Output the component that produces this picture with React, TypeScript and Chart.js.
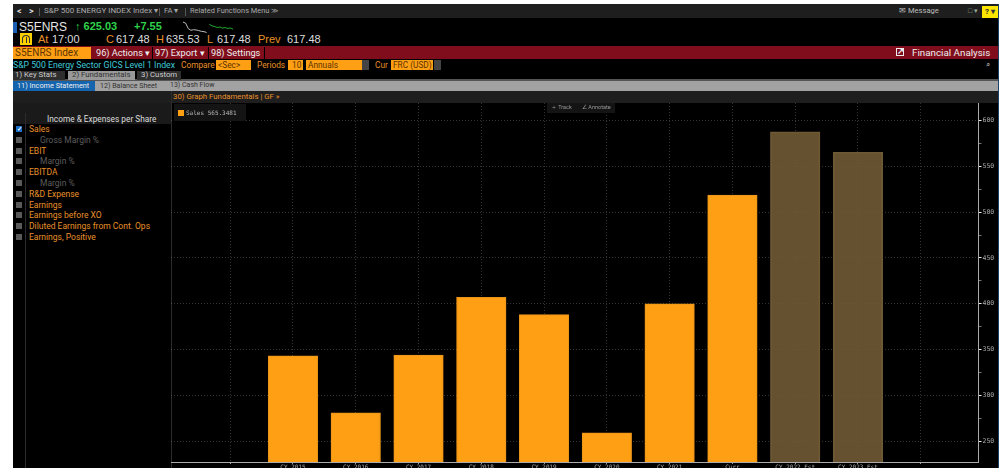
import React, { useEffect, useRef } from "react";
import { Chart, registerables } from "chart.js";

Chart.register(...registerables);

const periods = ["CY 2015", "CY 2016", "CY 2017", "CY 2018", "CY 2019", "CY 2020", "CY 2021", "Curr", "CY 2022 Est", "CY 2023 Est"];
const salesPerShare = [343, 281, 344, 407, 388, 259, 400, 518.7, 587.5, 565.3481];
const estimated = [false, false, false, false, false, false, false, false, true, true];
const yTicks = [250, 275, 300, 325, 350, 375, 400, 425, 450, 475, 500, 525, 550, 575, 600];
const xTicks = [-1, 0, 1, 2, 3, 4, 5, 6, 7, 8, 9, 10];
// Intraday sparkline in the quote block: previous session, then the current one.
const sparkPrevious = [10, 9, 4, 2.5, 3, 2.8, 2.2, 1.5, 1.2, 0.5, null, null, null, null, null, null, null, null, null, null];
const sparkCurrent = [null, null, null, null, null, null, null, null, null, null, 8, 6.5, 6, 5, 5.5, 4.5, 5, 4.2, 4.6, 3.5];
const sideMenu: [string, boolean, boolean][] = [
  ["Sales", false, true],
  ["Gross Margin %", true, false],
  ["EBIT", false, false],
  ["Margin %", true, false],
  ["EBITDA", false, false],
  ["Margin %", true, false],
  ["R&D Expense", false, false],
  ["Earnings", false, false],
  ["Earnings before XO", false, false],
  ["Diluted Earnings from Cont. Ops", false, false],
  ["Earnings, Positive", false, false],
];

const ORANGE = "#ff9f14";
const AMBER = "#e8902a";
const UI = "Roboto, 'Liberation Sans', sans-serif";
const ARIAL = "'Liberation Sans', sans-serif";
const MONO = "'DejaVu Sans Mono', monospace";

type BoxProps = { x: number; y: number; w: number; h: number; bg?: string; style?: React.CSSProperties; children?: React.ReactNode };
const Box = ({ x, y, w, h, bg, style, children }: BoxProps) => (
  <div style={{ position: "absolute", left: x, top: y, width: w, height: h, background: bg, ...style }}>{children}</div>
);

type LabelProps = { x: number; y: number; size?: number; color?: string; font?: string; weight?: number; children: React.ReactNode };
const Label = ({ x, y, size = 8.3, color = "#ccc", font = UI, weight = 400, children }: LabelProps) => (
  <div style={{ position: "absolute", left: x, top: y, fontSize: size, lineHeight: "1", color, fontFamily: font, fontWeight: weight, whiteSpace: "pre" }}>{children}</div>
);

const Field = ({ x, w, text }: { x: number; w: number; text: string }) => (
  <Box x={x} y={60} w={w} h={10} bg={ORANGE}>
    <Label x={2} y={1} size={8.3} color="#5a3400">{text}</Label>
  </Box>
);

// The plot area has to fill the canvas exactly, so label overhang is not reserved.
const dropAxisPadding = (axis: any) => {
  axis.paddingLeft = 0;
  axis.paddingRight = 0;
  axis.paddingTop = 0;
  axis.paddingBottom = 0;
};

export default function App() {
  const canvasRef = useRef<HTMLCanvasElement>(null);
  const sparkRef = useRef<HTMLCanvasElement>(null);

  useEffect(() => {
    const chart = new Chart(canvasRef.current!, {
      type: "bar",
      data: {
        datasets: [
          {
            label: "Sales",
            data: salesPerShare.map((v, i) => ({ x: i, y: v })),
            backgroundColor: estimated.map((e) => (e ? "rgba(112,90,52,0.9)" : ORANGE)),
            borderColor: estimated.map((e) => (e ? "#6f5a38" : "#e8941a")),
            borderWidth: 1,
            barThickness: 49.5,
          },
        ],
      },
      options: {
        animation: false,
        responsive: false,
        layout: { padding: 0 },
        plugins: { legend: { display: false }, tooltip: { enabled: false } },
        scales: {
          x: {
            type: "linear",
            offset: false,
            min: -1.943,
            max: 10.92,
            afterBuildTicks: (axis) => {
              axis.ticks = xTicks.map((value) => ({ value }));
            },
            afterFit: (axis) => {
              axis.height = 6;
              dropAxisPadding(axis);
            },
            grid: {
              offset: false,
              color: "rgba(255,255,255,0.2)",
              tickColor: "#999",
              tickLength: 2,
              tickBorderDash: [],
            },
            border: { color: "#aaa", dash: [1, 2] },
            ticks: {
              autoSkip: false,
              maxRotation: 0,
              padding: 0,
              color: "#aaa",
              font: { family: MONO, size: 6 },
              callback: (v) => periods[Number(v)] ?? "",
            },
          },
          y: {
            position: "right",
            min: 227.2,
            max: 619.1,
            afterBuildTicks: (axis) => {
              axis.ticks = yTicks.map((value) => ({ value }));
            },
            afterFit: (axis) => {
              axis.width = 19.5;
              dropAxisPadding(axis);
            },
            grid: {
              color: (c) => (Number(c.tick?.value) % 50 === 0 ? "rgba(255,255,255,0.2)" : "rgba(0,0,0,0)"),
              tickColor: (c) => (Number(c.tick?.value) % 50 === 0 ? "#eee" : "#777"),
              tickLength: 3,
              tickBorderDash: [],
            },
            border: { color: "#aaa", dash: [1, 2] },
            ticks: {
              padding: 1,
              color: "#aaa",
              font: { family: MONO, size: 6.5 },
              callback: (v) => (Number(v) % 50 === 0 ? String(v) : ""),
            },
          },
        },
      },
    });

    const spark = new Chart(sparkRef.current!, {
      type: "line",
      data: {
        labels: sparkPrevious.map((_, i) => String(i)),
        datasets: [
          { data: sparkPrevious, borderColor: "#bbb", borderWidth: 1, pointRadius: 0 },
          { data: sparkCurrent, borderColor: "#1fae2e", borderWidth: 1, pointRadius: 0 },
        ],
      },
      options: {
        animation: false,
        responsive: false,
        layout: { padding: 0 },
        plugins: { legend: { display: false }, tooltip: { enabled: false } },
        scales: {
          x: { display: false },
          y: { display: false, min: 0, max: 11 },
        },
      },
    });

    return () => {
      chart.destroy();
      spark.destroy();
    };
  }, []);

  return (
    <div style={{ position: "fixed", left: 0, top: 0, width: 1002, height: 468, background: "#fff", overflow: "hidden" }}>
      {/* terminal frame */}
      <Box x={13} y={4} w={985} h={464} bg="#000" />
      <Box x={998} y={4} w={1} h={464} bg="#1c4468" />

      {/* title strip */}
      <Box x={13} y={4} w={985} h={14} bg="#1e1e1e" />
      <Label x={17} y={7} size={9} color="#ddd" weight={700}>{"<"}</Label>
      <Label x={29} y={7} size={9} color="#ddd" weight={700}>{">"}</Label>
      <Label x={44} y={7} size={8} color="#aaa">S&amp;P 500 ENERGY INDEX Index ▾</Label>
      <Label x={164} y={7} size={7.6} color="#aaa">FA ▾</Label>
      <Label x={190} y={7} size={7.4} color="#aaa">Related Functions Menu ≫</Label>
      <Box x={39} y={8} w={1} h={8} bg="#555" />
      <Box x={159} y={8} w={1} h={8} bg="#555" />
      <Box x={185} y={8} w={1} h={8} bg="#555" />
      <Label x={899} y={7} size={7.6} color="#bbb">✉ Message</Label>
      <Label x={968} y={8} size={7} color="#9a9">□ ▾</Label>
      <Box x={982} y={6} w={16} h={12} bg="#ffe600" />
      <Label x={985} y={8} size={8} color="#333" weight={700}>? ▾</Label>

      {/* quote block */}
      <Box x={13} y={22} w={4} h={11} bg="#1a5fb4" />
      <Label x={19} y={21} size={12} color="#e6e6e6" font={ARIAL}>S5ENRS</Label>
      <Label x={75} y={21} size={11} color="#2fd24a" font={ARIAL} weight={700}>↑ 625.03</Label>
      <Label x={134} y={21} size={11} color="#2fd24a" font={ARIAL} weight={700}>+7.55</Label>
      <canvas ref={sparkRef} width={50} height={12} style={{ position: "absolute", left: 183, top: 21, width: 50, height: 12 }} />
      <Box x={20} y={33} w={12} h={12} bg="#ffd000" />
      <Box x={22} y={35} w={8} h={8} style={{ border: "1px solid #333", borderBottom: "none", borderRadius: "4px 4px 0 0", boxSizing: "border-box" }} />
      <Box x={25.5} y={37} w={1} h={6} bg="#333" />
      <Label x={38} y={34} size={11} color={AMBER} font={ARIAL}>At</Label>
      <Label x={52} y={34} size={11} color="#ddd" font={ARIAL}>17:00</Label>
      <Label x={106} y={34} size={11} color={AMBER} font={ARIAL}>C</Label>
      <Label x={116} y={34} size={11} color="#ddd" font={ARIAL}>617.48</Label>
      <Label x={156} y={34} size={11} color={AMBER} font={ARIAL}>H</Label>
      <Label x={166} y={34} size={11} color="#ddd" font={ARIAL}>635.53</Label>
      <Label x={207} y={34} size={11} color={AMBER} font={ARIAL}>L</Label>
      <Label x={217} y={34} size={11} color="#ddd" font={ARIAL}>617.48</Label>
      <Label x={258} y={34} size={11} color={AMBER} font={ARIAL}>Prev</Label>
      <Label x={287} y={34} size={11} color="#ddd" font={ARIAL}>617.48</Label>

      {/* action bar */}
      <Box x={13} y={46} w={985} h={13} bg="#7f0d1c" />
      <Box x={13} y={47} w={78} h={12} bg={ORANGE} />
      <Label x={15} y={48} size={10} color="#5a3400">S5ENRS Index</Label>
      <Label x={96} y={48} size={9.2} color="#eee">96) Actions ▾</Label>
      <Label x={155} y={48} size={9.2} color="#eee">97) Export ▾</Label>
      <Label x={211} y={48} size={9.2} color="#eee">98) Settings</Label>
      <Box x={152} y={47} w={1} h={12} bg="#000" />
      <Box x={208} y={47} w={1} h={12} bg="#000" />
      <Box x={264} y={47} w={1} h={12} bg="#000" />
      <Box x={896} y={48} w={8} h={8} style={{ border: "1px solid #eee", boxSizing: "border-box" }} />
      <Label x={897} y={47} size={9} color="#eee" weight={700}>↗</Label>
      <Label x={912} y={48} size={9.8} color="#eee">Financial Analysis</Label>

      {/* security row */}
      <Label x={13} y={61} size={8.7} color="#3fc9d8">S&amp;P 500 Energy Sector GICS Level 1 Index</Label>
      <Label x={181} y={61} size={8.3} color={AMBER}>Compare</Label>
      <Field x={216} w={35} text="<Sec>" />
      <Label x={257} y={61} size={8.3} color={AMBER}>Periods</Label>
      <Field x={288} w={15} text=" 10" />
      <Field x={306} w={56} text="Annuals" />
      <Box x={362} y={60} w={7} h={10} bg="#444" />
      <Label x={375} y={61} size={8.3} color={AMBER}>Cur</Label>
      <Field x={391} w={42} text="FRC (USD)" />
      <Box x={434} y={60} w={7} h={10} bg="#444" />
      <Label x={986} y={61} size={8} color="#aaa">⌕</Label>

      {/* tab rows */}
      <Box x={13} y={72} w={985} h={9} bg="#000" />
      <Box x={13} y={79} w={985} h={2} bg="#555" />
      <Box x={13} y={71} w={52} h={9} bg="#2e2e2e" />
      <Label x={15} y={71} size={7.8} color="#ccc">1) Key Stats</Label>
      <Box x={68} y={71} w={67} h={9} bg="#999" />
      <Label x={72} y={71} size={7.8} color="#333">2) Fundamentals</Label>
      <Box x={137} y={71} w={44} h={9} bg="#2e2e2e" />
      <Label x={141} y={71} size={7.8} color="#ccc">3) Custom</Label>
      <Box x={13} y={81} w={985} h={10} bg="#a2a2a2" />
      <Box x={13} y={81} w={82} h={10} bg="#1464ae" />
      <Label x={17} y={82} size={7.3} color="#eee">11) Income Statement</Label>
      <Label x={100} y={82} size={7.1} color="#333">12) Balance Sheet</Label>
      <Label x={170} y={82} size={7} color="#333">13) Cash Flow</Label>
      <Box x={13} y={91} w={985} h={12} bg="#1e1e1e" />
      <Label x={173} y={93} size={7.8} color={AMBER}>30) Graph Fundamentals | GF »</Label>

      {/* measure list */}
      <Box x={13} y={103} w={158} h={21} bg="#1a1a1a" />
      <Box x={25} y={113} w={1} h={355} bg="#2c2c2c" />
      <Box x={171} y={91} w={1} h={377} bg="#2c2c2c" />
      <Label x={47} y={115} size={8.3} color="#ddd">Income &amp; Expenses per Share</Label>
      {sideMenu.map(([name, sub, checked], i) => {
        const y = 125 + i * 10.8;
        return (
          <React.Fragment key={i}>
            <Box x={16} y={y + 1} w={6} h={6} bg={checked ? "#1c6fc4" : "#5a5a5a"} />
            {checked && <Label x={16.5} y={y + 1} size={6} color="#fff" weight={700}>✓</Label>}
            <Label x={sub ? 40 : 29} y={y} size={8.5} color={sub ? "#5c5c5c" : AMBER}>{name}</Label>
          </React.Fragment>
        );
      })}

      {/* plot */}
      <canvas ref={canvasRef} width={827} height={365} style={{ position: "absolute", left: 171, top: 103, width: 827, height: 365 }} />

      {/* plot overlays */}
      <Box x={174} y={104} w={72} h={17} bg="#141414" />
      <Box x={178} y={110} w={6} h={6} bg={ORANGE} />
      <Label x={186} y={110} size={6} color="#bbb" font={MONO}>Sales 565.3481</Label>
      <Box x={547} y={103} w={68} h={10} bg="#141414" />
      <Label x={551} y={105} size={5.5} color="#999">＋ Track</Label>
      <Label x={582} y={105} size={5.5} color="#999">∠ Annotate</Label>
    </div>
  );
}
